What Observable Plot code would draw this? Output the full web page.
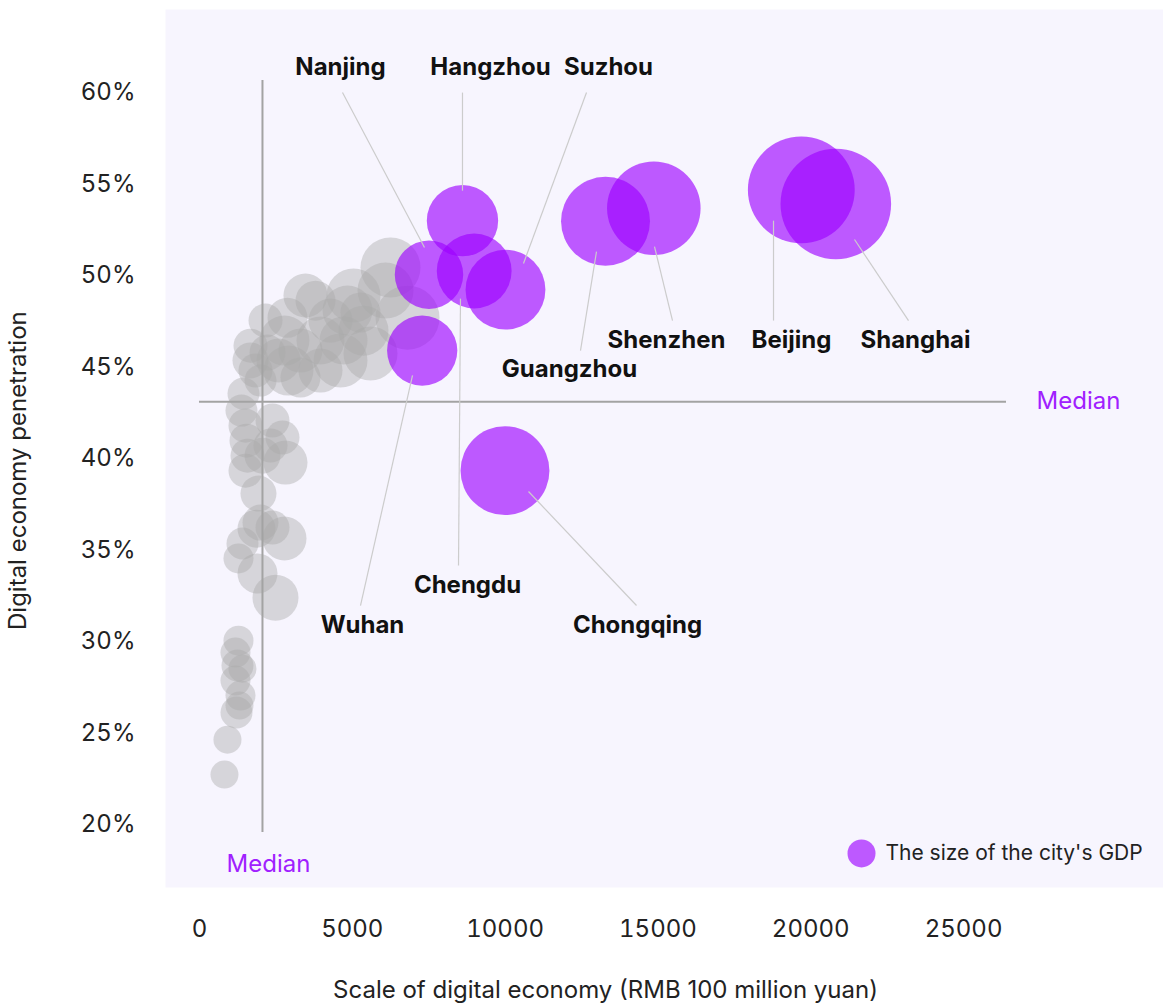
<!DOCTYPE html>
<html>
<head>
<meta charset="utf-8">
<script src="https://cdn.jsdelivr.net/npm/d3@7"></script>
<script src="https://cdn.jsdelivr.net/npm/@observablehq/plot@0.6"></script>
<style>
  html, body { margin: 0; padding: 0; background: #ffffff; }
  #chart { width: 1163px; height: 1003px; }
</style>
</head>
<body>
<div id="chart"></div>
<script>
// Highlighted cities
const cities = ["Beijing","Shanghai","Shenzhen","Guangzhou","Hangzhou","Nanjing","Chengdu","Suzhou","Wuhan","Chongqing"];
const cityScale = [19691, 20820, 14865, 13285, 8605, 7509, 8988, 10012, 7287, 9996];
const cityPenetration = [54.68, 53.91, 53.68, 52.97, 53.0, 50.05, 50.25, 49.23, 45.9, 39.34];
const cityGdp = [36103, 38701, 27670, 25019, 16106, 14818, 17717, 20170, 15616, 25003];

// Label anchors (data units) and leader lines
const labelX = [19370, 23428, 15280, 12107, 9522, 4614, 8769, 13383, 5333, 14332];
const labelY = [46.45, 46.45, 46.45, 44.86, 61.37, 61.37, 33.06, 61.37, 30.87, 30.87];
const lineX1 = [18782, 23199, 15477, 12466, 8605, 4679, 8475, 12663, 5268, 14299];
const lineY1 = [47.54, 47.54, 47.54, 45.90, 60, 60, 34.15, 60, 31.97, 31.97];
const lineX2 = [18782, 21432, 14888, 12990, 8605, 7362, 8540, 10601, 6970, 10765];
const lineY2 = [53.0, 51.97, 51.58, 51.31, 54.64, 51.53, 48.74, 50.66, 44.54, 38.20];

// Other cities (grey)
const otherScale = [818, 916, 1276, 1178, 1243, 1407, 1178, 1342, 1211, 1309,
  1930, 1996, 1865, 2389, 2781, 1407, 1276, 1898, 2487,
  1440, 1374, 1505, 1538, 1571, 1505, 2389, 2716, 2814, 2061, 2323,
  2160, 1669, 1832, 2225, 2879, 2781, 2912, 3305, 3468, 3796, 3305, 3959, 4614, 4712,
  5039, 4843, 5595, 5366, 6250, 6086, 6806, 4286, 5268, 1669, 2585, 3959, 1996];
const otherPenetration = [22.73, 24.64, 30.05, 29.40, 28.69, 28.52, 27.87, 27.05, 26.12, 26.50,
  38.09, 36.50, 36.17, 36.23, 35.63, 35.36, 34.54, 33.72, 32.40,
  43.55, 42.62, 41.80, 40.98, 40.16, 39.34, 42.08, 41.15, 39.78, 40.16, 40.71,
  47.54, 45.36, 44.81, 45.79, 47.70, 46.45, 44.81, 44.43, 48.91, 48.63, 45.90, 46.45, 45.36, 46.45,
  48.91, 48.09, 45.74, 46.99, 50.44, 49.18, 47.70, 47.54, 47.98, 46.17, 45.36, 44.81, 44.26];
const otherGdp = [2480, 2480, 2850, 2850, 3240, 2480, 2850, 2850, 3240, 2480,
  4100, 4100, 4570, 3660, 6130, 3240, 2850, 5060, 6700,
  3240, 3240, 3660, 3660, 3660, 3660, 3660, 3660, 6130, 4100, 3660,
  3660, 4100, 3660, 4100, 5060, 7910, 7910, 5060, 6130, 5060, 6130, 7290, 9230, 7290,
  9230, 7910, 9230, 7910, 11390, 9930, 12960, 6130, 5060, 3660, 6130, 6130, 3240];

// Medians and ticks
const medianScale = 2061;
const medianPenetration = 43.11;
const xTicks = [0, 5000, 10000, 15000, 20000, 25000];
const yTicks = [20, 25, 30, 35, 40, 45, 50, 55, 60];

const highlighted = cities.map((c, i) => ({
  city: c, x: cityScale[i], y: cityPenetration[i], gdp: cityGdp[i],
  lx: labelX[i], ly: labelY[i], x1: lineX1[i], y1: lineY1[i], x2: lineX2[i], y2: lineY2[i]
}));
const others = otherScale.map((x, i) => ({x, y: otherPenetration[i], gdp: otherGdp[i]}));

const purple = "#9d00ff";
const purpleOpacity = 0.64;

const chart = Plot.plot({
  width: 1163,
  height: 1003,
  marginLeft: 165,
  marginRight: 0,
  marginTop: 9,
  marginBottom: 116,
  style: {fontFamily: "Inter, 'Noto Sans', sans-serif", fontSize: "24px", color: "#222", background: "#ffffff"},
  x: {domain: [-1112, 31542], ticks: xTicks, tickSize: 0, tickPadding: 32, label: null, tickFormat: d => String(d)},
  y: {domain: [16.56, 64.54], ticks: yTicks, tickSize: 0, tickPadding: 30, label: null, tickFormat: d => d + "%"},
  r: {type: "sqrt", domain: [0, 38701], range: [0, 55.3]},
  marks: [
    Plot.frame({fill: "#f7f5fe", stroke: null}),
    Plot.dot(others, {x: "x", y: "y", r: "gdp", fill: "#a9a9a9", fillOpacity: 0.42, stroke: null}),
    Plot.ruleX([medianScale], {y1: 19.56, y2: 60.66, stroke: "#a3a3a3", strokeWidth: 2}),
    Plot.ruleY([medianPenetration], {x1: 0, x2: 26405, stroke: "#a3a3a3", strokeWidth: 2}),
    Plot.dot(highlighted, {x: "x", y: "y", r: "gdp", fill: purple, fillOpacity: purpleOpacity, stroke: null}),
    Plot.link(highlighted, {x1: "x1", y1: "y1", x2: "x2", y2: "y2", stroke: "#cccccc", strokeWidth: 1.2}),
    Plot.text(highlighted, {x: "lx", y: "ly", text: "city", fontWeight: "bold", fontSize: 24, fill: "#111", textAnchor: "middle"}),
    Plot.text(["Median"], {x: 28761, y: medianPenetration, text: d => d, fill: "#a020ff", fontSize: 24}),
    Plot.text(["Median"], {x: 2258, y: 17.81, text: d => d, fill: "#a020ff", fontSize: 24}),
    Plot.dot(["The size of the city's GDP"], {x: 21661, y: 18.42, r: 14, fill: purple, fillOpacity: purpleOpacity, stroke: null}),
    Plot.text(["The size of the city's GDP"], {x: 22446, y: 18.42, text: d => d, textAnchor: "start", fontSize: 21, fill: "#222"}),
    Plot.text(["Scale of digital economy (RMB 100 million yuan)"], {x: 13284, y: 10.93, text: d => d, fontSize: 24, fill: "#222"}),
    Plot.text(["Digital economy penetration"], {x: -5922, y: 39.34, text: d => d, rotate: -90, fontSize: 24, fill: "#222"})
  ]
});
document.getElementById("chart").appendChild(chart);
</script>
</body>
</html>
